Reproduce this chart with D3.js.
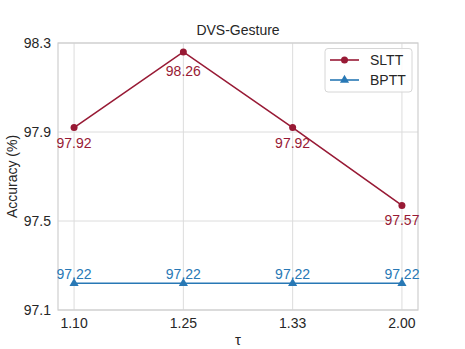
<!DOCTYPE html>
<html>
<head>
<meta charset="utf-8">
<style>
  body { margin: 0; background: white; }
  text { font-family: "Liberation Sans", Arial, sans-serif; fill: #262626; font-size: 14px; }
  .grid line { stroke: #dcdcdc; stroke-width: 1; }
</style>
</head>
<body>
<script src="https://cdnjs.cloudflare.com/ajax/libs/d3/7.8.5/d3.min.js"></script>
<script>
// data
var taus = ["1.10", "1.25", "1.33", "2.00"];
var slttAcc = [97.92, 98.26, 97.92, 97.57];
var bpttAcc = [97.22, 97.22, 97.22, 97.22];
var yTicks = [97.1, 97.5, 97.9, 98.3];

var W = 465, H = 349;
var pL = 58, pR = 418, pT = 43, pB = 310;
var red = "#981a35", blue = "#2878b5";

var svg = d3.select("body").append("svg")
  .attr("width", W).attr("height", H);

var x = d3.scaleLinear().domain([-0.147, taus.length - 1 + 0.147]).range([pL, pR]);
var y = d3.scaleLinear().domain([97.1, 98.3]).range([pB, pT]);

// grid
var grid = svg.append("g").attr("class", "grid");
grid.selectAll("line.v").data(taus).enter().append("line")
  .attr("x1", function(d, i) { return x(i); })
  .attr("x2", function(d, i) { return x(i); })
  .attr("y1", pT).attr("y2", pB);
grid.selectAll("line.h").data(yTicks).enter().append("line")
  .attr("x1", pL).attr("x2", pR)
  .attr("y1", function(d) { return y(d); })
  .attr("y2", function(d) { return y(d); });

// frame
svg.append("rect")
  .attr("x", pL).attr("y", pT)
  .attr("width", pR - pL).attr("height", pB - pT)
  .style("fill", "none").style("stroke", "#cfcfcf").style("stroke-width", 1.2);

// tick labels
svg.selectAll("text.yt").data(yTicks).enter().append("text")
  .attr("x", pL - 7).attr("y", function(d) { return y(d) + 5; })
  .style("text-anchor", "end")
  .text(function(d) { return d.toFixed(1); });
svg.selectAll("text.xt").data(taus).enter().append("text")
  .attr("x", function(d, i) { return x(i); }).attr("y", pB + 18)
  .style("text-anchor", "middle")
  .text(function(d) { return d; });

// axis labels + title
svg.append("text")
  .attr("x", 238).attr("y", 35)
  .style("text-anchor", "middle")
  .text("DVS-Gesture");
svg.append("text")
  .attr("transform", "translate(17," + ((pT + pB) / 2) + ") rotate(-90)")
  .style("text-anchor", "middle")
  .text("Accuracy (%)");
svg.append("text")
  .attr("x", 238).attr("y", 345)
  .style("text-anchor", "middle").style("font-size", "15px")
  .text("τ");

var line = d3.line()
  .x(function(d, i) { return x(i); })
  .y(function(d) { return y(d); });

// SLTT
svg.append("path").datum(slttAcc).attr("d", line)
  .style("fill", "none").style("stroke", red).style("stroke-width", 1.6);
svg.selectAll("circle.s").data(slttAcc).enter().append("circle")
  .attr("cx", function(d, i) { return x(i); })
  .attr("cy", function(d) { return y(d); })
  .attr("r", 3.5).style("fill", red);
svg.selectAll("text.sl").data(slttAcc).enter().append("text")
  .attr("x", function(d, i) { return x(i); })
  .attr("y", function(d, i) { return y(d) + (i === 1 ? 24 : 20); })
  .style("text-anchor", "middle").style("fill", red)
  .text(function(d) { return d.toFixed(2); });

// BPTT
var tri = d3.symbol().type(d3.symbolTriangle).size(36);
svg.append("path").datum(bpttAcc).attr("d", line)
  .style("fill", "none").style("stroke", blue).style("stroke-width", 1.6);
svg.selectAll("path.b").data(bpttAcc).enter().append("path")
  .attr("d", tri)
  .attr("transform", function(d, i) { return "translate(" + x(i) + "," + y(d) + ")"; })
  .style("fill", blue);
svg.selectAll("text.bl").data(bpttAcc).enter().append("text")
  .attr("x", function(d, i) { return x(i); })
  .attr("y", function(d) { return y(d) - 4.5; })
  .style("text-anchor", "middle").style("fill", blue)
  .text(function(d) { return d.toFixed(2); });

// legend
var lg = svg.append("g");
lg.append("rect")
  .attr("x", 325).attr("y", 48.5).attr("width", 87).attr("height", 43.5).attr("rx", 3)
  .style("fill", "white").style("fill-opacity", 0.85)
  .style("stroke", "#d6d6d6");
lg.append("line").attr("x1", 330).attr("x2", 359).attr("y1", 60).attr("y2", 60)
  .style("stroke", red).style("stroke-width", 1.6);
lg.append("circle").attr("cx", 344.5).attr("cy", 60).attr("r", 3.5).style("fill", red);
lg.append("text").attr("x", 370).attr("y", 65).text("SLTT");
lg.append("line").attr("x1", 330).attr("x2", 359).attr("y1", 80).attr("y2", 80)
  .style("stroke", blue).style("stroke-width", 1.6);
lg.append("path").attr("d", tri).attr("transform", "translate(344.5,80)").style("fill", blue);
lg.append("text").attr("x", 370).attr("y", 85).text("BPTT");
</script>
</body>
</html>
